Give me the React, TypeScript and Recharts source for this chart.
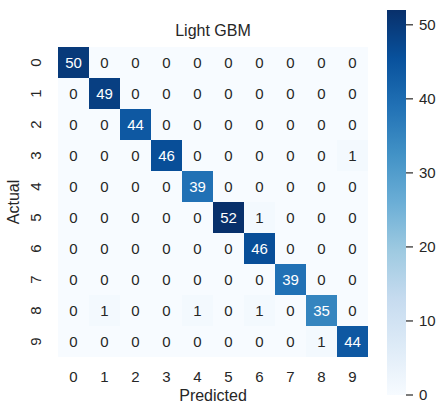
import React from 'react';
import {
  ScatterChart, Scatter, XAxis, YAxis, BarChart, Bar,
} from 'recharts';

const CLASSES = ['0', '1', '2', '3', '4', '5', '6', '7', '8', '9'];
const ROW_0 = [50, 0, 0, 0, 0, 0, 0, 0, 0, 0];
const ROW_1 = [0, 49, 0, 0, 0, 0, 0, 0, 0, 0];
const ROW_2 = [0, 0, 44, 0, 0, 0, 0, 0, 0, 0];
const ROW_3 = [0, 0, 0, 46, 0, 0, 0, 0, 0, 1];
const ROW_4 = [0, 0, 0, 0, 39, 0, 0, 0, 0, 0];
const ROW_5 = [0, 0, 0, 0, 0, 52, 1, 0, 0, 0];
const ROW_6 = [0, 0, 0, 0, 0, 0, 46, 0, 0, 0];
const ROW_7 = [0, 0, 0, 0, 0, 0, 0, 39, 0, 0];
const ROW_8 = [0, 1, 0, 0, 1, 0, 1, 0, 35, 0];
const ROW_9 = [0, 0, 0, 0, 0, 0, 0, 0, 1, 44];
const MATRIX = [ROW_0, ROW_1, ROW_2, ROW_3, ROW_4, ROW_5, ROW_6, ROW_7, ROW_8, ROW_9];
const CBAR_TICKS = [0, 10, 20, 30, 40, 50];
const VMAX = 52;

// matplotlib "Blues"
const BLUES = ['#f7fbff', '#deebf7', '#c6dbef', '#9ecae1', '#6baed6', '#4292c6', '#2171b5', '#08519c', '#08306b'];

const FONT = '"Liberation Sans", Arial, sans-serif';
const INK = '#262626';
const CELL = 31;

function hexToRgb(h: string) {
  return [parseInt(h.slice(1, 3), 16), parseInt(h.slice(3, 5), 16), parseInt(h.slice(5, 7), 16)];
}

function blues(t: number): number[] {
  const p = Math.max(0, Math.min(1, t)) * (BLUES.length - 1);
  const i = Math.min(Math.floor(p), BLUES.length - 2);
  const f = p - i;
  const a = hexToRgb(BLUES[i]);
  const b = hexToRgb(BLUES[i + 1]);
  return a.map((c, k) => c + (b[k] - c) * f);
}

function luminance(rgb: number[]) {
  const lin = rgb.map(c => {
    const s = c / 255;
    return s <= 0.03928 ? s / 12.92 : Math.pow((s + 0.055) / 1.055, 2.4);
  });
  return 0.2126 * lin[0] + 0.7152 * lin[1] + 0.0722 * lin[2];
}

const cells = MATRIX.flatMap((row, i) => row.map((v, j) => ({ x: j, y: i, v })));

const CellShape = (props: any) => {
  const { cx, cy, payload } = props;
  const rgb = blues(payload.v / VMAX);
  const fill = `rgb(${rgb.map(c => Math.round(c)).join(',')})`;
  const txt = luminance(rgb) > 0.408 ? INK : '#ffffff';
  return (
    <g>
      <rect x={cx - CELL / 2} y={cy - CELL / 2} width={CELL} height={CELL} fill={fill} />
      <text x={cx} y={cy} dy="0.36em" textAnchor="middle" fontSize={15} fontFamily={FONT} fill={txt}>
        {payload.v}
      </text>
    </g>
  );
};

const YTick = (props: any) => {
  const { y, payload } = props;
  return (
    <text x={41} y={y} transform={`rotate(-90, 41, ${y})`} textAnchor="middle" fontSize={15} fontFamily={FONT} fill={INK}>
      {CLASSES[payload.value]}
    </text>
  );
};

const ActualLabel = (props: any) => {
  const vb = props.viewBox;
  const cy = vb.y + vb.height / 2;
  return (
    <text x={19} y={cy} transform={`rotate(-90, 19, ${cy})`} textAnchor="middle" fontSize={16} fontFamily={FONT} fill={INK}>
      Actual
    </text>
  );
};

export default function App() {
  return (
    <div style={{ position: 'absolute', left: 0, top: 0, width: 446, height: 415, background: '#fff', fontFamily: FONT }}>
      <div style={{ position: 'absolute', left: 58, width: 310, top: 23, textAlign: 'center', fontSize: 16, lineHeight: '16px', color: INK }}>
        Light GBM
      </div>
      <div style={{ position: 'absolute', left: 0, top: 0 }}>
        <ScatterChart width={380} height={415} margin={{ top: 47, right: 12, left: 0, bottom: 0 }}>
          <XAxis
            type="number" dataKey="x" domain={[-0.5, 9.5]} ticks={[0, 1, 2, 3, 4, 5, 6, 7, 8, 9]}
            height={58} axisLine={false} tickLine={false} tickSize={0} tickMargin={14}
            tickFormatter={(v: number) => CLASSES[v]}
            tick={{ fontSize: 15, fontFamily: FONT, fill: INK }}
            label={{ value: 'Predicted', position: 'insideBottom', offset: 14, fontSize: 16, fontFamily: FONT, fill: INK }}
          />
          <YAxis
            type="number" dataKey="y" domain={[-0.5, 9.5]} ticks={[0, 1, 2, 3, 4, 5, 6, 7, 8, 9]} reversed
            width={58} axisLine={false} tickLine={false} tick={<YTick />}
            label={<ActualLabel />}
          />
          <Scatter data={cells} shape={<CellShape />} isAnimationActive={false} />
        </ScatterChart>
      </div>
      <div style={{ position: 'absolute', left: 370, top: 0 }}>
        <BarChart width={76} height={415} data={[{ name: 'cb', v: VMAX }]} barCategoryGap={0}
          margin={{ top: 10, right: 0, left: 17, bottom: 20 }}>
          <defs>
            <linearGradient id="cbGrad" x1="0" y1="1" x2="0" y2="0">
              {BLUES.map((c, k) => (
                <stop key={k} offset={`${(k / (BLUES.length - 1)) * 100}%`} stopColor={c} />
              ))}
            </linearGradient>
          </defs>
          <XAxis dataKey="name" hide />
          <YAxis
            orientation="right" type="number" domain={[0, VMAX]} ticks={CBAR_TICKS} width={40}
            axisLine={false} tickSize={7} tickMargin={6}
            tickLine={{ stroke: INK, strokeWidth: 1.2 }}
            tick={{ fontSize: 15, fontFamily: FONT, fill: INK }}
          />
          <Bar dataKey="v" fill="url(#cbGrad)" isAnimationActive={false} />
        </BarChart>
      </div>
    </div>
  );
}
